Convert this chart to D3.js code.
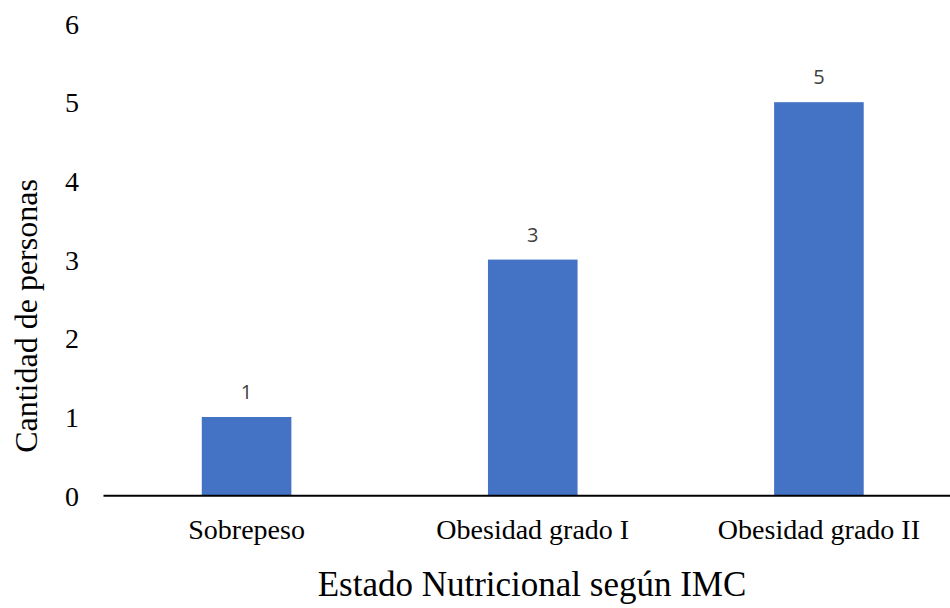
<!DOCTYPE html>
<html><head><meta charset="utf-8">
<script src="https://cdn.jsdelivr.net/npm/d3@7"></script>
<style>body{margin:0;background:#fff}</style>
</head><body>
<svg id="c" width="950" height="608"></svg>
<script>
const categories = ["Sobrepeso", "Obesidad grado I", "Obesidad grado II"];
const values = [1, 3, 5];
const yTicks = [0, 1, 2, 3, 4, 5, 6];
const xTitle = "Estado Nutricional según IMC";
const yTitle = "Cantidad de personas";

const svg = d3.select("#c");
const serif = "Liberation Serif, Times New Roman, serif";
const x = d3.scaleBand().domain(categories).range([103.5, 962]).paddingInner(0.69).paddingOuter(0.345);
const y = d3.scaleLinear().domain([0, 6]).range([495.7, 23.5]);

// bars
svg.selectAll("rect.bar").data(values).enter().append("rect")
  .attr("class", "bar")
  .attr("x", (d, i) => x(categories[i]) + x.bandwidth() / 2 - 44.8)
  .attr("width", 89.6)
  .attr("y", d => y(d))
  .attr("height", d => y(0) - y(d))
  .attr("fill", "#4472C4");

// data labels
svg.selectAll("text.lbl").data(values).enter().append("text")
  .attr("class", "lbl")
  .attr("x", (d, i) => x(categories[i]) + x.bandwidth() / 2)
  .attr("y", d => y(d) - 18)
  .attr("text-anchor", "middle")
  .style("font-family", "Open Sans, DejaVu Sans, sans-serif")
  .style("font-size", "20px")
  .attr("fill", "#404040")
  .text(d => d);

// y axis (labels only)
const yAxis = d3.axisLeft(y).tickValues(yTicks).tickSize(0).tickPadding(0).tickFormat(d3.format("d"));
const gy = svg.append("g").attr("transform", "translate(79,0)").call(yAxis);
gy.select(".domain").remove();
gy.selectAll("text").style("font-family", serif).style("font-size", "28px").attr("fill", "#000").attr("dy", "0.34em");

// x axis
const xAxis = d3.axisBottom(x).tickSize(0).tickPadding(0);
const gx = svg.append("g").attr("transform", `translate(0,${y(0)})`).call(xAxis);
gx.select(".domain").attr("stroke", "#000").attr("stroke-width", 2).attr("d", "M103.5,0H950");
gx.selectAll("text").style("font-family", serif).style("font-size", "28px").attr("fill", "#000").attr("dy", "0").attr("y", 43);

// titles
svg.append("text").attr("x", 532).attr("y", 596).attr("text-anchor", "middle")
  .style("font-family", serif).style("font-size", "35px").attr("fill", "#000").text(xTitle);
svg.append("text").attr("transform", "translate(37,316) rotate(-90)").attr("text-anchor", "middle")
  .style("font-family", serif).style("font-size", "32px").attr("fill", "#000").text(yTitle);
</script>
</body></html>
